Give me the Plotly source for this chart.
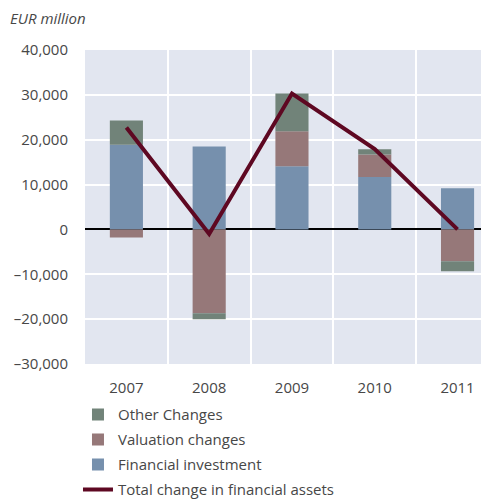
import plotly.graph_objects as go

years = ["2007", "2008", "2009", "2010", "2011"]
financial_investment = [18900, 18500, 14100, 11700, 9200]
valuation_changes = [-1800, -18700, 7800, 5000, -7100]
other_changes = [5400, -1300, 8400, 1200, -2200]
total_change = [22700, -1000, 30300, 17900, 0]

tick_vals = [-30000, -20000, -10000, 0, 10000, 20000, 30000, 40000]
tick_text = ["–30,000", "–20,000", "–10,000", "0", "10,000", "20,000", "30,000", "40,000"]

FONT = "Open Sans"
TXT = "#474747"

fig = go.Figure()
fig.add_trace(go.Bar(x=years, y=financial_investment, name="Financial investment",
                     marker=dict(color="#7690ad", line=dict(width=0)), width=0.4,
                     legendrank=3, legendgroup="fi"))
fig.add_trace(go.Bar(x=years, y=valuation_changes, name="Valuation changes",
                     marker=dict(color="#967879", line=dict(width=0)), width=0.4,
                     legendrank=2, legendgroup="val"))
fig.add_trace(go.Bar(x=years, y=other_changes, name="Other Changes",
                     marker=dict(color="#718379", line=dict(width=0)), width=0.4,
                     legendrank=1, legendgroup="oth"))
fig.add_trace(go.Scatter(x=years, y=total_change, name="Total change in financial assets",
                         mode="lines", line=dict(color="#5e0822", width=4),
                         legendrank=4, legendgroup="tot"))

# the page body adds an 8px margin, so the figure is sized to fit the window
fig.update_layout(
    width=481, height=492,
    margin=dict(l=77, r=0, t=42, b=136, autoexpand=False),
    barmode="relative",
    plot_bgcolor="#e2e6f0",
    paper_bgcolor="white",
    font=dict(family=FONT, size=15, color=TXT),
    showlegend=True,
    legend=dict(orientation="v", xref="container", yref="container",
                x=0.1455, xanchor="left", y=0.207, yanchor="top",
                tracegroupgap=2.5, font=dict(size=15, color=TXT),
                bgcolor="rgba(0,0,0,0)"),
    annotations=[dict(text="<i>EUR million</i>", xref="paper", yref="paper",
                      x=-0.19, y=1.0, yshift=32, xanchor="left", yanchor="middle",
                      showarrow=False, font=dict(size=15, color=TXT))],
)
fig.update_xaxes(type="category", range=[-0.5, 4.38], tickson="boundaries",
                 showgrid=True, gridcolor="white", gridwidth=2, ticks="",
                 automargin=False,
                 tickfont=dict(size=15, color=TXT), ticklabelstandoff=13)
fig.update_yaxes(range=[-30000, 40000], tickvals=tick_vals, ticktext=tick_text,
                 showgrid=True, gridcolor="white", gridwidth=2,
                 zeroline=True, zerolinecolor="black", zerolinewidth=2,
                 automargin=False,
                 tickfont=dict(size=15, color=TXT), ticklabelstandoff=16)

fig.write_html("out.html")
